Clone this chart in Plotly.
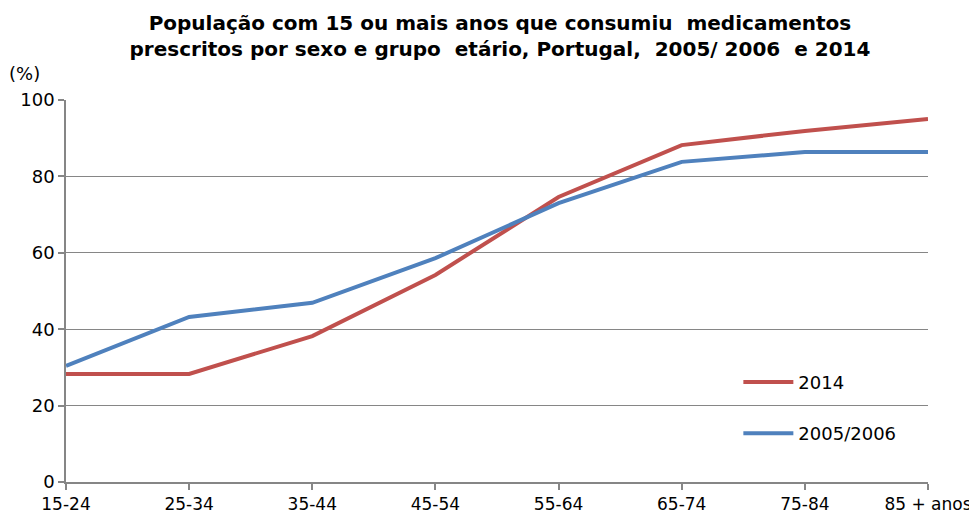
import plotly.graph_objects as go

categories = ["15-24", "25-34", "35-44", "45-54", "55-64", "65-74", "75-84", "85 + anos"]
values_2014 = [28.3, 28.3, 38.2, 54.2, 74.6, 88.2, 91.9, 95.0]
values_2005 = [30.4, 43.2, 46.9, 58.6, 73.0, 83.8, 86.4, 86.4]
y_ticks = [0, 20, 40, 60, 80, 100]

FONT = "DejaVu Sans"
GRID = "#868686"

fig = go.Figure()
fig.add_trace(go.Scatter(x=categories, y=values_2014, mode="lines", name="2014",
                         legendgroup="a",
                         line=dict(color="#C0504D", width=4)))
fig.add_trace(go.Scatter(x=categories, y=values_2005, mode="lines", name="2005/2006",
                         legendgroup="b",
                         line=dict(color="#4F81BD", width=4)))

fig.update_layout(
    width=969, height=511,
    margin=dict(l=58, r=49, t=92, b=37),
    paper_bgcolor="white", plot_bgcolor="white",
    font=dict(family=FONT, size=18, color="black"),
    title=dict(text="<b>População com 15 ou mais anos que consumiu  medicamentos<br>prescritos por sexo e grupo  etário, Portugal,  2005/ 2006  e 2014</b>",
               x=0.5077, xanchor="center", y=0.957, yanchor="middle",
               font=dict(family=FONT, size=20, color="black")),
    showlegend=True,
    legend=dict(x=0.78, y=0.3095, xanchor="left", yanchor="top",
                bgcolor="rgba(0,0,0,0)", traceorder="grouped", tracegroupgap=25,
                itemwidth=50,
                font=dict(family=FONT, size=18)),
    xaxis=dict(type="category", range=[0, 7], showgrid=False, automargin=False,
               showline=True, linecolor=GRID, linewidth=1.5,
               ticks="outside", ticklen=6, tickcolor=GRID, tickwidth=1.5,
               tickfont=dict(family=FONT, size=17)),
    yaxis=dict(range=[0, 100], tickvals=y_ticks, showgrid=True, gridcolor=GRID, gridwidth=1,
               showline=True, linecolor=GRID, linewidth=1.5, zeroline=False, automargin=False,
               ticks="outside", ticklen=6, tickcolor=GRID, tickwidth=1.5,
               tickfont=dict(family=FONT, size=18)),
    shapes=[dict(type="rect", xref="paper", yref="paper", x0=0.751, x1=0.9965,
                 y0=0.058, y1=0.332, fillcolor="white", line=dict(width=0),
                 layer="between")],
    annotations=[dict(text="(%)", xref="paper", yref="paper", x=-0.0685, y=1.07,
                      xanchor="left", yanchor="middle", showarrow=False,
                      font=dict(family=FONT, size=18))]
)

fig.write_html("out.html")
